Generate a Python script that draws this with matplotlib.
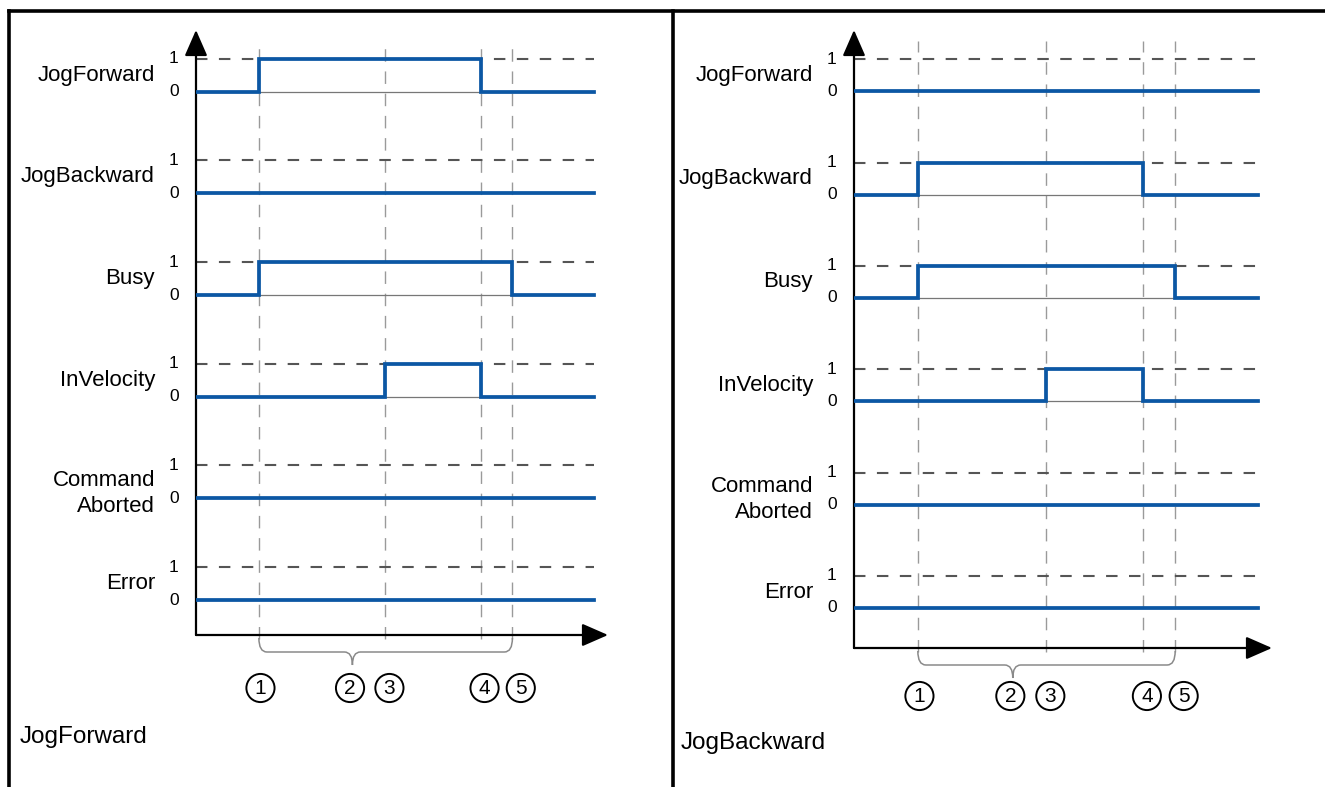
"""Timing diagram for MC_MoveJog: jogging forward and backward."""
import matplotlib.pyplot as plt
from matplotlib.lines import Line2D
from matplotlib.path import Path
from matplotlib.patches import PathPatch

plt.rcParams["font.family"] = ["Liberation Sans", "DejaVu Sans"]

# ---- data -------------------------------------------------------------
SIGNALS = ["JogForward", "JogBackward", "Busy", "InVelocity", "Command\nAborted", "Error"]
EVENT_TIMES = [1.58, 4.76, 7.15, 7.95]          # dashed vertical markers
END_TIME = 10.0
MARK_LABELS = ["1", "2", "3", "4", "5"]
MARK_POS = [1.62, 3.87, 4.86, 7.25, 8.16]
BRACE_SPAN = (1.58, 7.95)
BRACE_TIP = 3.93

# (rise, fall) of each signal, None = stays 0
PULSES_FWD = [(1.58, 7.15), None, (1.58, 7.95), (4.76, 7.15), None, None]
PULSES_BWD = [None, (1.58, 7.15), (1.58, 7.95), (4.76, 7.15), None, None]
CAPTIONS = ["JogForward", "JogBackward"]

BLUE = "#0b57a4"
W, H = 1325, 787

fig = plt.figure(figsize=(W / 100, H / 100), dpi=100)

# panel geometry in pixels: axis origin x, x-axis y, arrow tips, px per unit
panels = [
    dict(x0=196, y0=635, xr=608, yt=30, px=39.8, py=33.0, base=1.06, gap=3.08,
         pulses=PULSES_FWD, caption=(20, 737), mark_y=688),
    dict(x0=854, y0=648, xr=1272, yt=30, px=40.4, py=32.0, base=1.25, gap=3.23,
         pulses=PULSES_BWD, caption=(681, 743), mark_y=696),
]

for k, p in enumerate(panels):
    ax = fig.add_axes([p["x0"] / W, 1 - p["y0"] / H,
                       (p["xr"] - p["x0"]) / W, (p["y0"] - p["yt"]) / H])
    xmax = (p["xr"] - p["x0"]) / p["px"]
    ymax = (p["y0"] - p["yt"]) / p["py"]
    ax.set_xlim(0, xmax)
    ax.set_ylim(0, ymax)
    ax.axis("off")

    # axes with arrows
    arrow = dict(arrowstyle="-|>,head_length=0.8,head_width=0.35", lw=1.6,
                 color="black", mutation_scale=20, shrinkA=0, shrinkB=0)
    ax.annotate("", xy=(0, 1), xytext=(0, 0), xycoords="axes fraction", arrowprops=arrow)
    ax.annotate("", xy=(1, 0), xytext=(0, 0), xycoords="axes fraction", arrowprops=arrow)

    # vertical event markers
    vtop = ymax - 11 / p["py"]
    for t in EVENT_TIMES:
        ax.plot([t, t], [-0.12, vtop], color="#9a9a9a", lw=1.0,
                dashes=(9, 7), clip_on=False, zorder=1)

    for i, name in enumerate(SIGNALS):
        b = p["base"] + p["gap"] * (len(SIGNALS) - 1 - i)
        ax.plot([0, END_TIME], [b + 1, b + 1], color="#555555", lw=1.5,
                dashes=(5.5, 5.5), zorder=2)
        ax.plot([0, END_TIME], [b, b], color="#777777", lw=0.9, zorder=2)
        pulse = p["pulses"][i]
        if pulse is None:
            xs, ys = [0, END_TIME], [0, 0]
        else:
            xs, ys = [0, pulse[0], pulse[1], END_TIME], [0, 1, 0, 0]
        ax.step(xs, [b + v for v in ys], where="post", color=BLUE, lw=2.7,
                solid_joinstyle="miter", zorder=3)

        ax.text(-22 / p["px"], b + 1, "1", ha="center", va="center", fontsize=12.5)
        ax.text(-22 / p["px"], b, "0", ha="center", va="center", fontsize=12.5)
        ly = b + 0.5 if "\n" not in name else b + 0.15
        ax.text(-41 / p["px"], ly, name, ha="right", va="center", fontsize=16,
                linespacing=1.3)

    # curly brace below the time axis
    x1, x2 = BRACE_SPAN
    r = 8 / p["px"]
    yt_, ym, yb = -3 / p["py"], -17 / p["py"], -30 / p["py"]
    verts = [(x1, yt_), (x1, ym), (x1 + r, ym),
             (BRACE_TIP - r, ym), (BRACE_TIP, ym), (BRACE_TIP, yb),
             (BRACE_TIP, ym), (BRACE_TIP + r, ym),
             (x2 - r, ym), (x2, ym), (x2, yt_)]
    codes = [Path.MOVETO, Path.CURVE3, Path.CURVE3,
             Path.LINETO, Path.CURVE3, Path.CURVE3,
             Path.CURVE3, Path.CURVE3,
             Path.LINETO, Path.CURVE3, Path.CURVE3]
    ax.add_patch(PathPatch(Path(verts, codes), fill=False, ec="#8a8a8a", lw=1.1,
                           clip_on=False))

    # circled step numbers
    my = -(p["mark_y"] - p["y0"]) / p["py"]
    for lab, mx in zip(MARK_LABELS, MARK_POS):
        ax.text(mx, my, lab, ha="center", va="center", fontsize=15,
                bbox=dict(boxstyle="circle,pad=0.22", fc="white", ec="black", lw=1.4))

    fig.text(p["caption"][0] / W, 1 - p["caption"][1] / H, CAPTIONS[k],
             ha="left", va="center", fontsize=17.5)

# table frame
frame = dict(color="black", lw=2.6, solid_capstyle="projecting")
fig.add_artist(Line2D([9 / W, 1], [1 - 11 / H] * 2, **frame))
fig.add_artist(Line2D([9 / W] * 2, [0, 1 - 11 / H], **frame))
fig.add_artist(Line2D([673 / W] * 2, [0, 1 - 11 / H], **frame))

fig.savefig("out.png", dpi=100)
